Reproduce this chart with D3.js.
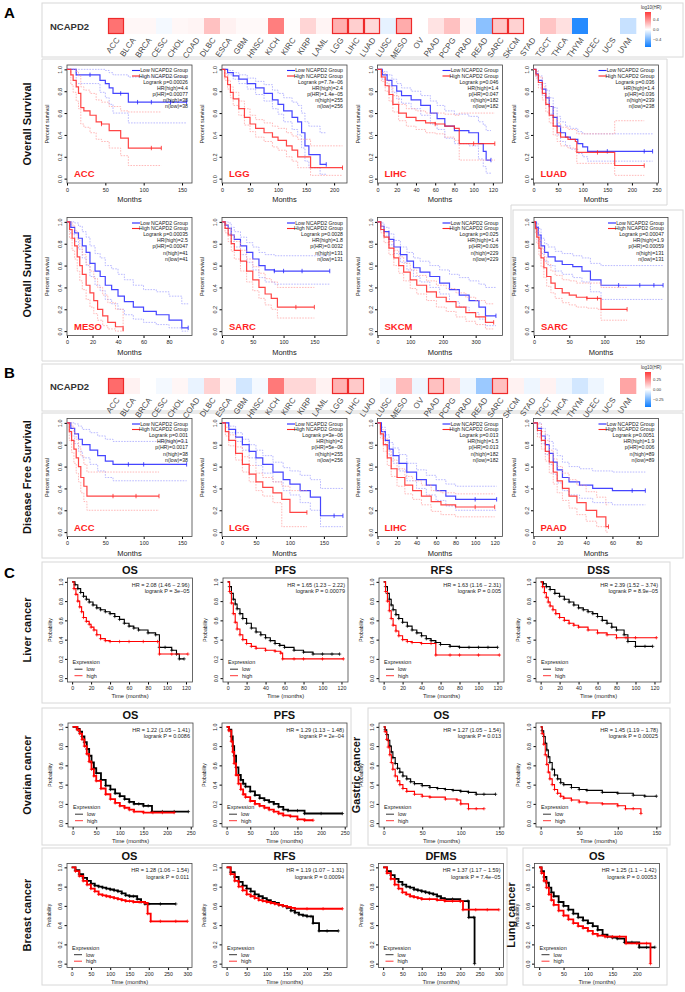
<!DOCTYPE html>
<html>
<head>
<meta charset="utf-8">
<script src="https://cdn.jsdelivr.net/npm/d3@7"></script>
<style>
  body { margin: 0; background: #fff; }
  svg { display: block; font-family: "Liberation Sans", Arial, sans-serif; }
</style>
</head>
<body>
<script>
// ---------- heatmap data ----------
const cancers = ['ACC','BLCA','BRCA','CESC','CHOL','COAD','DLBC','ESCA','GBM','HNSC','KICH','KIRC','KIRP','LAML',
  'LGG','LIHC','LUAD','LUSC','MESO','OV','PAAD','PCPG','PRAD','READ','SARC','SKCM','STAD','TGCT','THCA','THYM','UCEC','UCS','UVM']
const osHR = [0.5,0.03,0.03,-0.03,0.03,0.04,0.22,0.05,0.02,0.02,0.46,0.01,0.15,0.04,
  0.28,0.17,0.14,-0.07,0.3,0,0.1,0.22,0.04,-0.33,0.2,0.16,0,0.21,0.11,-0.62,0,0,-0.16]
const osSig = ['ACC','LGG','LIHC','LUAD','MESO','SARC','SKCM']
const dfsHR = [0.33,0.03,0,-0.02,0.02,-0.04,0.1,0.02,-0.08,-0.02,0.3,0.09,0.09,0.03,
  0.17,0.12,0,-0.02,0.15,-0.03,0.14,0.08,-0.03,-0.18,0.14,0.03,-0.03,0.03,-0.03,-0.08,-0.03,0,0.2]
const dfsSig = ['ACC','LGG','LIHC','PAAD','SARC']
const osLegendTicks = [0.4, 0, -0.4]
const dfsLegendTicks = [0.25, 0, -0.25]

// ---------- GEPIA curves: [months, survival, lower CI, upper CI, censored] ----------
const osACC_low = [[0,1,1,1],[12,0.95,0.87,1],[30,0.95,0.87,1,1],[43,0.9,0.79,1],[50,0.87,0.74,0.99],[55,0.83,0.68,0.97],
  [60,0.78,0.6,0.95],[70,0.78,0.6,0.95,1],[80,0.7,0.51,0.93],[92,0.7,0.51,0.93,1],[110,0.7,0.51,0.93,1],[135,0.7,0.51,0.93,1],[156,0.7,0.51,0.93,1]]
const osACC_high = [[0,1,1,1],[5,0.95,0.86,1],[8,0.9,0.79,1],[12,0.84,0.71,0.98],[15,0.78,0.64,0.94],[18,0.65,0.5,0.84],
  [22,0.62,0.47,0.81],[30,0.58,0.42,0.78],[38,0.52,0.36,0.72],[45,0.5,0.34,0.7,1],[55,0.44,0.28,0.66],[70,0.37,0.21,0.62],
  [80,0.28,0.12,0.61],[110,0.28,0.12,0.61,1],[123,0.28,0.12,0.61,1]]
const osLGG_low = [[0,1,1,1],[10,0.97,0.95,0.99],[20,0.94,0.91,0.97],[30,0.91,0.87,0.95],[45,0.87,0.82,0.92],[60,0.83,0.77,0.89],
  [75,0.78,0.71,0.86],[90,0.72,0.64,0.81],[100,0.68,0.59,0.78],[110,0.62,0.52,0.74],[125,0.56,0.45,0.7],[135,0.52,0.4,0.67],
  [142,0.42,0.28,0.6],[148,0.3,0.16,0.52],[155,0.22,0.1,0.48],[175,0.13,0.04,0.42],[186,0.13,0.04,0.42,1]]
const osLGG_high = [[0,1,1,1],[5,0.93,0.9,0.96],[10,0.86,0.82,0.9],[15,0.79,0.74,0.84],[20,0.73,0.67,0.79],[30,0.64,0.58,0.71],
  [40,0.56,0.49,0.64],[50,0.5,0.43,0.58],[60,0.46,0.38,0.54],[75,0.42,0.34,0.51],[90,0.38,0.29,0.48],[100,0.35,0.26,0.46],
  [115,0.3,0.2,0.42],[125,0.26,0.16,0.39],[135,0.2,0.1,0.36],[158,0.1,0.03,0.3],[215,0.1,0.03,0.3,1]]
const osLIHC_low = [[0,1,1,1],[5,0.95,0.91,0.98],[10,0.9,0.85,0.95],[15,0.85,0.79,0.91],[20,0.8,0.73,0.87],[25,0.76,0.69,0.83],
  [35,0.72,0.64,0.8],[45,0.67,0.58,0.76],[55,0.6,0.5,0.71],[62,0.55,0.45,0.67],[70,0.48,0.37,0.62],[80,0.44,0.32,0.59],
  [95,0.42,0.3,0.57],[105,0.32,0.18,0.52],[110,0.25,0.11,0.49],[113,0.17,0.05,0.44],[118,0.17,0.05,0.44,1]]
const osLIHC_high = [[0,1,1,1],[4,0.93,0.89,0.97],[8,0.85,0.8,0.9],[12,0.77,0.71,0.84],[16,0.68,0.61,0.76],[22,0.6,0.53,0.68],
  [30,0.56,0.48,0.64],[40,0.53,0.45,0.62],[50,0.51,0.42,0.6],[60,0.5,0.41,0.6,1],[70,0.48,0.38,0.59],[80,0.46,0.35,0.58],
  [85,0.32,0.17,0.6],[100,0.32,0.17,0.6,1],[122,0.32,0.17,0.6,1]]
const osLUAD_low = [[0,1,1,1],[5,0.96,0.93,0.99],[10,0.9,0.86,0.94],[18,0.82,0.76,0.87],[25,0.74,0.68,0.81],[32,0.66,0.59,0.74],
  [40,0.56,0.48,0.65],[48,0.48,0.4,0.57],[55,0.42,0.34,0.52],[65,0.38,0.3,0.48],[75,0.36,0.27,0.46],[90,0.32,0.23,0.43],
  [100,0.29,0.2,0.41],[110,0.25,0.16,0.41],[150,0.25,0.16,0.41,1],[225,0.25,0.16,0.41,1],[242,0.25,0.16,0.41,1]]
const osLUAD_high = [[0,1,1,1],[5,0.95,0.92,0.98],[10,0.88,0.83,0.93],[18,0.78,0.72,0.84],[25,0.68,0.61,0.75],[32,0.58,0.51,0.66],
  [40,0.48,0.4,0.57],[48,0.42,0.34,0.51],[55,0.38,0.3,0.47],[70,0.36,0.28,0.45],[85,0.34,0.25,0.44],[88,0.24,0.14,0.41],
  [130,0.24,0.14,0.41,1],[165,0.12,0.03,0.53],[225,0.12,0.03,0.53,1]]
const osMESO_low = [[0,1,1,1],[3,0.95,0.89,1],[6,0.9,0.82,0.99],[9,0.85,0.75,0.96],[12,0.78,0.67,0.91],[15,0.72,0.6,0.86],
  [18,0.62,0.5,0.78],[22,0.55,0.42,0.71],[26,0.5,0.37,0.67],[30,0.42,0.29,0.6],[35,0.38,0.25,0.57],[40,0.32,0.2,0.52],
  [45,0.27,0.15,0.47],[52,0.22,0.11,0.42],[60,0.18,0.08,0.38],[70,0.15,0.06,0.36],[80,0.1,0.03,0.32],[90,0.03,0,0.25],[95,0.03,0,0.25,1]]
const osMESO_high = [[0,1,1,1],[2,0.93,0.85,1],[4,0.85,0.74,0.97],[6,0.78,0.66,0.92],[8,0.68,0.55,0.84],[10,0.6,0.46,0.77],
  [12,0.52,0.38,0.7],[15,0.42,0.29,0.61],[18,0.35,0.22,0.55],[21,0.28,0.16,0.48],[24,0.2,0.1,0.4],[28,0.14,0.05,0.33],
  [32,0.08,0.02,0.26],[38,0.04,0,0.2],[44,0,0,0]]
const osSARC_low = [[0,1,1,1],[5,0.97,0.94,1],[10,0.94,0.89,0.99],[15,0.88,0.82,0.95],[20,0.84,0.77,0.91],[30,0.78,0.7,0.86],
  [40,0.72,0.63,0.81],[50,0.66,0.56,0.77],[60,0.6,0.49,0.72],[70,0.56,0.45,0.7],[85,0.55,0.43,0.69,1],[100,0.55,0.43,0.69,1],
  [130,0.55,0.43,0.69,1],[175,0.55,0.43,0.69,1]]
const osSARC_high = [[0,1,1,1],[5,0.94,0.9,0.98],[10,0.88,0.82,0.94],[15,0.8,0.73,0.88],[20,0.74,0.66,0.82],[30,0.64,0.55,0.74],
  [40,0.55,0.45,0.66],[50,0.47,0.37,0.59],[60,0.4,0.3,0.53],[70,0.34,0.24,0.48],[80,0.3,0.2,0.45],[90,0.22,0.12,0.4],
  [120,0.22,0.12,0.4,1],[150,0.22,0.12,0.4,1]]
const osSKCM_low = [[0,1,1,1],[10,0.96,0.93,0.99],[20,0.91,0.87,0.95],[35,0.84,0.79,0.89],[50,0.77,0.71,0.83],[70,0.7,0.63,0.77],
  [90,0.64,0.56,0.72],[110,0.58,0.5,0.67],[130,0.54,0.45,0.64],[160,0.5,0.4,0.6],[190,0.44,0.34,0.56],[220,0.38,0.27,0.52],
  [250,0.33,0.22,0.49],[280,0.28,0.17,0.46],[310,0.22,0.11,0.43],[330,0.14,0.05,0.4],[362,0.14,0.05,0.4,1]]
const osSKCM_high = [[0,1,1,1],[10,0.93,0.9,0.96],[20,0.86,0.81,0.9],[35,0.76,0.7,0.82],[50,0.67,0.6,0.74],[65,0.6,0.53,0.68],
  [80,0.54,0.46,0.62],[100,0.47,0.39,0.56],[120,0.42,0.34,0.51],[150,0.36,0.28,0.46],[180,0.31,0.22,0.42],[210,0.27,0.18,0.39],
  [240,0.22,0.13,0.35],[270,0.17,0.09,0.31],[300,0.13,0.06,0.28],[330,0.08,0.02,0.25],[355,0.08,0.02,0.25,1]]
const osSARC2_low = [[0,1,1,1],[3,0.95,0.91,0.99],[6,0.88,0.82,0.94],[10,0.78,0.71,0.85],[15,0.72,0.64,0.8],[20,0.68,0.6,0.77],
  [30,0.64,0.55,0.73],[40,0.61,0.52,0.71],[55,0.59,0.49,0.69],[68,0.55,0.45,0.67],[80,0.47,0.36,0.62],[95,0.42,0.29,0.6],
  [120,0.42,0.29,0.6,1],[150,0.42,0.29,0.6,1],[170,0.42,0.29,0.6,1],[183,0.42,0.29,0.6,1]]
const osSARC2_high = [[0,1,1,1],[2,0.94,0.9,0.98],[4,0.86,0.8,0.92],[7,0.76,0.69,0.84],[10,0.67,0.59,0.76],[14,0.58,0.49,0.68],
  [18,0.5,0.41,0.61],[24,0.44,0.35,0.55],[30,0.39,0.3,0.51],[40,0.35,0.26,0.47],[50,0.33,0.24,0.46],[60,0.31,0.22,0.44],
  [75,0.3,0.21,0.44,1],[90,0.3,0.2,0.44,1],[95,0.2,0.1,0.4],[132,0.2,0.1,0.4,1]]
const dfsACC_low = [[0,1,1,1],[5,0.95,0.88,1],[10,0.9,0.81,0.99],[15,0.85,0.74,0.97],[20,0.8,0.68,0.94],[30,0.75,0.62,0.91],
  [40,0.7,0.56,0.88],[50,0.65,0.5,0.85],[60,0.62,0.47,0.83],[80,0.62,0.47,0.83,1],[100,0.62,0.47,0.83,1],[156,0.62,0.47,0.83,1]]
const dfsACC_high = [[0,1,1,1],[3,0.92,0.84,1],[6,0.84,0.73,0.97],[9,0.76,0.63,0.91],[12,0.68,0.54,0.85],[15,0.6,0.46,0.78],
  [18,0.5,0.36,0.7],[22,0.42,0.28,0.62],[26,0.33,0.2,0.55],[60,0.33,0.2,0.55,1],[90,0.33,0.2,0.55,1],[120,0.33,0.2,0.55,1]]
const dfsLGG_low = [[0,1,1,1],[10,0.94,0.91,0.97],[20,0.87,0.83,0.91],[30,0.8,0.75,0.85],[40,0.74,0.68,0.8],[50,0.68,0.61,0.75],
  [60,0.62,0.54,0.7],[75,0.55,0.46,0.64],[90,0.48,0.38,0.59],[100,0.44,0.34,0.56],[115,0.38,0.27,0.52],[130,0.32,0.2,0.48],
  [145,0.15,0.05,0.4],[165,0.15,0.05,0.4,1],[178,0.15,0.05,0.4,1]]
const dfsLGG_high = [[0,1,1,1],[5,0.92,0.88,0.96],[10,0.84,0.79,0.89],[20,0.72,0.66,0.78],[30,0.62,0.55,0.69],[40,0.53,0.46,0.61],
  [50,0.46,0.38,0.54],[60,0.41,0.33,0.5],[75,0.36,0.27,0.46],[88,0.3,0.05,0.42],[100,0.18,0.05,0.38],[125,0.18,0.05,0.38,1]]
const dfsLIHC_low = [[0,1,1,1],[4,0.92,0.88,0.96],[8,0.84,0.79,0.89],[12,0.76,0.7,0.82],[16,0.7,0.63,0.77],[22,0.63,0.56,0.71],
  [30,0.55,0.47,0.63],[40,0.48,0.4,0.57],[50,0.43,0.34,0.52],[60,0.38,0.29,0.48],[70,0.33,0.24,0.44],[80,0.3,0.2,0.42],
  [100,0.3,0.2,0.42,1],[122,0.3,0.2,0.42,1]]
const dfsLIHC_high = [[0,1,1,1],[3,0.9,0.86,0.94],[6,0.8,0.74,0.86],[10,0.68,0.61,0.75],[14,0.58,0.51,0.66],[20,0.5,0.42,0.58],
  [28,0.43,0.35,0.51],[36,0.38,0.3,0.47],[45,0.33,0.25,0.43],[55,0.28,0.19,0.38],[65,0.25,0.16,0.36],[80,0.23,0.14,0.35],
  [100,0.23,0.14,0.35,1],[120,0.23,0.14,0.35,1]]
const dfsPAAD_low = [[0,1,1,1],[3,0.95,0.9,1],[6,0.88,0.81,0.95],[9,0.8,0.71,0.89],[12,0.72,0.62,0.83],[15,0.64,0.53,0.76],
  [18,0.57,0.45,0.7],[22,0.5,0.38,0.64],[27,0.46,0.34,0.6],[35,0.43,0.31,0.58],[45,0.4,0.27,0.56],[60,0.38,0.25,0.55],
  [75,0.38,0.25,0.55,1],[85,0.38,0.25,0.55,1]]
const dfsPAAD_high = [[0,1,1,1],[3,0.93,0.87,0.99],[6,0.84,0.76,0.92],[9,0.74,0.65,0.84],[12,0.64,0.54,0.75],[15,0.55,0.44,0.67],
  [18,0.47,0.36,0.6],[22,0.4,0.29,0.54],[27,0.33,0.22,0.48],[33,0.27,0.16,0.43],[40,0.2,0.1,0.37],[48,0.14,0.05,0.32],
  [55,0.05,0,0.25],[57,0.05,0,0.25,1]]

// ---------- KM plotter curves: [months, probability] ----------
const liverOS_low = [[0,1],[3,0.97],[6,0.93],[9,0.89],[12,0.85],[15,0.82],[18,0.79],[22,0.76],[26,0.73],[30,0.71],[35,0.69],[40,0.67],
  [45,0.64],[50,0.61],[55,0.57],[60,0.54],[65,0.52],[70,0.5],[80,0.47],[88,0.45],[92,0.32],[98,0.32],[105,0.29],[110,0.25],[113,0.2],[118,0.2]]
const liverOS_high = [[0,1],[2,0.93],[4,0.87],[6,0.8],[8,0.74],[10,0.69],[12,0.63],[15,0.59],[18,0.56],[20,0.53],[23,0.5],[26,0.45],
  [30,0.41],[35,0.39],[40,0.38],[50,0.38],[60,0.38],[75,0.38],[90,0.38],[92,0.25],[105,0.25],[122,0.25]]
const liverPFS_low = [[0,1],[2,0.95],[4,0.88],[6,0.82],[8,0.77],[10,0.72],[13,0.67],[16,0.62],[20,0.57],[25,0.52],[30,0.48],[35,0.45],
  [40,0.42],[45,0.39],[50,0.36],[55,0.34],[60,0.32],[70,0.29],[80,0.27],[90,0.25],[100,0.25],[110,0.25],[118,0.25]]
const liverPFS_high = [[0,1],[2,0.9],[4,0.78],[6,0.67],[8,0.58],[10,0.51],[13,0.45],[16,0.4],[20,0.36],[25,0.33],[30,0.31],[40,0.29],
  [50,0.28],[56,0.26],[58,0.2],[70,0.2],[80,0.2],[100,0.2],[122,0.2]]
const liverRFS_low = [[0,1],[2,0.95],[4,0.88],[6,0.82],[8,0.76],[10,0.71],[13,0.66],[16,0.62],[20,0.58],[25,0.54],[30,0.5],[35,0.47],
  [40,0.44],[45,0.41],[50,0.39],[55,0.37],[60,0.35],[70,0.33],[80,0.32],[90,0.32],[100,0.32],[110,0.32],[120,0.32]]
const liverRFS_high = [[0,1],[2,0.9],[4,0.8],[6,0.7],[8,0.62],[10,0.55],[13,0.49],[16,0.44],[20,0.4],[25,0.38],[30,0.37],[40,0.36],
  [50,0.36],[55,0.24],[70,0.24],[80,0.24],[100,0.24],[122,0.24]]
const liverDSS_low = [[0,1],[3,0.98],[6,0.95],[10,0.92],[15,0.88],[20,0.85],[25,0.82],[30,0.79],[35,0.76],[40,0.73],[45,0.71],[50,0.69],
  [55,0.67],[60,0.64],[65,0.6],[70,0.57],[75,0.53],[80,0.5],[88,0.45],[92,0.38],[100,0.33],[110,0.33],[118,0.33]]
const liverDSS_high = [[0,1],[2,0.95],[4,0.89],[6,0.84],[8,0.79],[10,0.75],[13,0.71],[16,0.67],[20,0.63],[25,0.6],[30,0.57],[35,0.55],
  [40,0.53],[50,0.5],[60,0.47],[70,0.45],[80,0.42],[90,0.42],[100,0.42],[122,0.42]]
const ovarianOS_low = [[0,1],[10,0.98],[15,0.95],[20,0.9],[25,0.84],[30,0.77],[35,0.7],[40,0.63],[45,0.57],[50,0.52],[60,0.45],[70,0.39],
  [80,0.35],[90,0.31],[100,0.28],[110,0.25],[120,0.22],[130,0.2],[140,0.2],[150,0.18],[160,0.18],[168,0.12],[190,0.12],[215,0.12],[245,0.12]]
const ovarianOS_high = [[0,1],[10,0.97],[15,0.93],[20,0.87],[25,0.8],[30,0.72],[35,0.64],[40,0.56],[45,0.49],[50,0.44],[60,0.36],[70,0.3],
  [80,0.25],[90,0.21],[100,0.18],[110,0.16],[120,0.14],[130,0.12],[150,0.11],[170,0.11],[190,0.11],[215,0.11]]
const ovarianPFS_low = [[0,1],[5,0.97],[10,0.9],[13,0.8],[16,0.7],[20,0.58],[25,0.5],[30,0.45],[35,0.41],[40,0.38],[50,0.33],[60,0.29],
  [70,0.26],[80,0.24],[90,0.22],[100,0.2],[110,0.17],[120,0.14],[130,0.13],[150,0.13],[165,0.1],[200,0.1],[245,0.1]]
const ovarianPFS_high = [[0,1],[5,0.96],[10,0.85],[13,0.74],[16,0.62],[20,0.5],[25,0.41],[30,0.35],[35,0.3],[40,0.27],[50,0.23],[60,0.2],
  [70,0.18],[80,0.16],[90,0.14],[100,0.12],[110,0.1],[120,0.08],[135,0.07],[150,0.04],[165,0.03],[183,0.03]]
const gastricOS_low = [[0,1],[2,0.97],[4,0.92],[6,0.86],[8,0.8],[10,0.74],[12,0.68],[15,0.62],[18,0.57],[21,0.53],[25,0.49],[30,0.46],
  [35,0.43],[40,0.41],[50,0.39],[60,0.37],[70,0.36],[80,0.35],[90,0.34],[100,0.33],[110,0.32],[120,0.3],[130,0.3],[145,0.3]]
const gastricOS_high = [[0,1],[2,0.95],[4,0.87],[6,0.79],[8,0.71],[10,0.63],[12,0.56],[15,0.49],[18,0.44],[21,0.4],[25,0.36],[30,0.33],
  [40,0.3],[50,0.28],[60,0.27],[80,0.25],[95,0.24],[100,0.2],[110,0.15],[120,0.15],[130,0.15]]
const gastricFP_low = [[0,1],[2,0.96],[4,0.9],[6,0.83],[8,0.76],[10,0.69],[12,0.63],[15,0.56],[18,0.5],[22,0.46],[26,0.42],[30,0.4],
  [40,0.37],[50,0.35],[60,0.34],[80,0.32],[100,0.31],[120,0.29],[135,0.28],[150,0.28]]
const gastricFP_high = [[0,1],[2,0.93],[4,0.82],[6,0.71],[8,0.61],[10,0.53],[12,0.46],[15,0.4],[18,0.35],[22,0.31],[26,0.28],[30,0.26],
  [40,0.24],[50,0.22],[60,0.21],[80,0.2],[100,0.18],[110,0.15],[120,0.15],[130,0.1]]
const breastOS_low = [[0,1],[10,0.97],[20,0.93],[30,0.89],[40,0.86],[50,0.83],[60,0.81],[70,0.8],[80,0.79],[90,0.78],[100,0.77],[110,0.76],
  [120,0.75],[130,0.73],[140,0.71],[150,0.7],[160,0.7],[170,0.67],[180,0.64],[190,0.62],[200,0.62],[230,0.62],[270,0.62]]
const breastOS_high = [[0,1],[10,0.96],[20,0.91],[30,0.86],[40,0.82],[50,0.78],[60,0.75],[70,0.72],[80,0.71],[90,0.7],[100,0.69],[110,0.68],
  [120,0.67],[130,0.66],[140,0.65],[150,0.65],[160,0.64],[175,0.64],[190,0.63],[197,0.52],[205,0.44],[230,0.44],[270,0.44],[300,0.44]]
const breastRFS_low = [[0,1],[10,0.95],[20,0.9],[30,0.85],[40,0.81],[50,0.78],[60,0.75],[70,0.72],[80,0.7],[90,0.68],[100,0.66],[110,0.64],
  [120,0.63],[130,0.61],[140,0.6],[150,0.58],[160,0.55],[170,0.53],[180,0.51],[190,0.5],[200,0.49],[210,0.49],[215,0.42],[230,0.34],[250,0.34],[278,0.34]]
const breastRFS_high = [[0,1],[10,0.93],[20,0.86],[30,0.8],[40,0.76],[50,0.72],[60,0.7],[70,0.68],[80,0.66],[90,0.65],[100,0.64],[110,0.63],
  [120,0.62],[130,0.61],[140,0.6],[150,0.59],[160,0.58],[170,0.57],[200,0.57],[240,0.57],[288,0.57]]
const breastDFMS_low = [[0,1],[10,0.96],[20,0.92],[30,0.88],[40,0.85],[50,0.82],[60,0.8],[70,0.79],[80,0.77],[90,0.76],[100,0.75],[110,0.74],
  [120,0.73],[130,0.72],[140,0.7],[150,0.68],[160,0.67],[180,0.67],[200,0.65],[220,0.65],[222,0.48],[235,0.48],[237,0]]
const breastDFMS_high = [[0,1],[10,0.94],[20,0.88],[30,0.82],[40,0.78],[50,0.74],[60,0.72],[70,0.7],[80,0.69],[90,0.68],[100,0.67],[120,0.67],
  [140,0.66],[160,0.65],[180,0.65],[200,0.65],[207,0.56],[240,0.56],[270,0.56],[300,0.56]]
const lungOS_low = [[0,1],[5,0.96],[10,0.9],[15,0.84],[20,0.79],[25,0.74],[30,0.7],[40,0.64],[50,0.6],[60,0.56],[70,0.52],[80,0.48],
  [90,0.45],[100,0.42],[110,0.39],[120,0.35],[130,0.3],[140,0.28],[150,0.27],[160,0.26],[175,0.22],[190,0.22],[205,0.17],[220,0.17],[237,0.17]]
const lungOS_high = [[0,1],[5,0.94],[10,0.86],[15,0.79],[20,0.72],[25,0.66],[30,0.61],[40,0.55],[50,0.5],[60,0.46],[70,0.42],[80,0.39],
  [90,0.37],[100,0.34],[110,0.31],[120,0.29],[135,0.28],[150,0.28],[165,0.28],[178,0.21],[200,0.21],[220,0.21],[228,0]]

// ---------- drawing ----------
const svg = d3.select('body').append('svg').attr('width', 685).attr('height', 992)
const boxColor = '#d8d8d8'

function box(x, y, w, h) {
  svg.append('rect').attr('x', x).attr('y', y).attr('width', w).attr('height', h)
    .attr('fill', 'none').attr('stroke', boxColor).attr('stroke-width', 1)
}
function letter(t, x, y) {
  svg.append('text').attr('x', x).attr('y', y).attr('font-size', 15).attr('font-weight', 'bold').text(t)
}
function rowLabel(t, x, y) {
  svg.append('text').attr('transform', `translate(${x},${y}) rotate(-90)`).attr('text-anchor', 'middle')
    .attr('font-size', 11).attr('font-weight', 'bold').attr('fill', '#111').text(t)
}

function heatmap(top, values, sig, legendTicks, lim, gid) {
  const g = svg.append('g')
  const xb = d3.scaleBand().domain(cancers).range([108, 636])
  const color = d3.scaleLinear().domain([-lim, 0, lim]).range(['#0a7cff', '#ffffff', '#ff3a3a'])
  g.append('text').attr('x', 50).attr('y', top + 27).attr('font-size', 9.5).attr('font-weight', 'bold')
    .attr('fill', '#333').text('NCAPD2')
  g.selectAll('rect.cell').data(cancers).join('rect').attr('class', 'cell')
    .attr('x', d => xb(d)).attr('y', top + 15).attr('width', xb.bandwidth() + 0.3).attr('height', 16)
    .attr('fill', (d, i) => color(values[i]))
  g.selectAll('rect.sig').data(sig).join('rect').attr('class', 'sig')
    .attr('x', d => xb(d) + 0.5).attr('y', top + 15.5).attr('width', xb.bandwidth() - 1).attr('height', 15)
    .attr('fill', 'none').attr('stroke', '#ee2a2a').attr('stroke-width', 1.2)
  g.selectAll('text.lab').data(cancers).join('text').attr('class', 'lab')
    .attr('transform', d => `translate(${xb(d) + xb.bandwidth() / 2 + 4},${top + 37}) rotate(-55)`)
    .attr('text-anchor', 'end').attr('font-size', 8).attr('fill', '#4a4a4a').text(d => d)
  // colour key
  const grad = svg.append('defs').append('linearGradient').attr('id', gid)
    .attr('x1', 0).attr('y1', 0).attr('x2', 0).attr('y2', 1)
  grad.append('stop').attr('offset', '0%').attr('stop-color', color(lim))
  grad.append('stop').attr('offset', '50%').attr('stop-color', '#ffffff')
  grad.append('stop').attr('offset', '100%').attr('stop-color', color(-lim))
  const ky = d3.scaleLinear().domain([lim, -lim]).range([top + 9, top + 44])
  g.append('rect').attr('x', 645).attr('y', top + 9).attr('width', 6).attr('height', 35).attr('fill', `url(#${gid})`)
  g.append('text').attr('x', 641).attr('y', top + 6).attr('font-size', 4.5).attr('fill', '#333').text('log10(HR)')
  g.selectAll('text.kt').data(legendTicks).join('text').attr('class', 'kt')
    .attr('x', 653).attr('y', d => ky(d) + 1.5).attr('font-size', 4.2).attr('fill', '#333')
    .text(d => d3.format('.' + (lim < 0.5 ? 2 : 1) + 'f')(d).replace('-', '\u2212'))
}

function gepia(p) {
  const w = p.w || 125, h = 118
  const g = svg.append('g')
  const x = d3.scaleLinear().domain([0, p.xmax]).range([p.x0, p.x0 + w])
  const y = d3.scaleLinear().domain([-0.04, 1.04]).range([p.y0 + h, p.y0])
  g.append('g').attr('transform', `translate(0,${p.y0 + h})`)
    .call(d3.axisBottom(x).tickValues(p.ticks).tickSize(2.5).tickPadding(2.5))
    .call(a => a.select('.domain').remove())
    .call(a => a.selectAll('text').attr('font-size', 5.5).attr('fill', '#222'))
  g.append('g').attr('transform', `translate(${p.x0},0)`)
    .call(d3.axisLeft(y).tickValues([0, 0.2, 0.4, 0.6, 0.8, 1]).tickFormat(d3.format('.1f')).tickSize(2.5).tickPadding(2))
    .call(a => a.select('.domain').remove())
    .call(a => a.selectAll('text').attr('font-size', 5.5).attr('fill', '#222')
      .attr('transform', 'rotate(-90)').attr('text-anchor', 'middle').attr('x', 0).attr('dy', 0).attr('y', -5))
  g.append('rect').attr('x', p.x0).attr('y', p.y0).attr('width', w).attr('height', h)
    .attr('fill', 'none').attr('stroke', '#444').attr('stroke-width', 0.8)
  g.append('text').attr('x', p.x0 + w / 2).attr('y', p.y0 + h + 19).attr('text-anchor', 'middle')
    .attr('font-size', 7.5).attr('fill', '#222').text('Months')
  g.append('text').attr('transform', `translate(${p.x0 - 18},${p.y0 + h / 2}) rotate(-90)`).attr('text-anchor', 'middle')
    .attr('font-size', 5.5).attr('fill', '#222').text('Percent survival')
  const series = [[p.low, '#2424ff', '#9c9cff'], [p.high, '#ff2424', '#ff9c9c']]
  series.forEach(([data, main, light]) => {
    [2, 3].forEach(k => {
      g.append('path').datum(data).attr('fill', 'none').attr('stroke', light).attr('stroke-width', 0.7)
        .attr('stroke-dasharray', '1.6,1.2')
        .attr('d', d3.line().x(d => x(d[0])).y(d => y(d[k])).curve(d3.curveStepAfter))
    })
    g.append('path').datum(data).attr('fill', 'none').attr('stroke', main).attr('stroke-width', 1.2).attr('opacity', 0.85)
      .attr('d', d3.line().x(d => x(d[0])).y(d => y(d[1])).curve(d3.curveStepAfter))
    g.selectAll(null).data(data.filter(d => d[4])).join('line')
      .attr('x1', d => x(d[0])).attr('x2', d => x(d[0])).attr('y1', d => y(d[1]) - 2.2).attr('y2', d => y(d[1]) + 2.2)
      .attr('stroke', main).attr('stroke-width', 0.8)
  })
  const right = p.x0 + w - 4
  const lg = [['Low NCAPD2 Group', '#2424ff'], ['High NCAPD2 Group', '#ff2424']]
  lg.forEach(([t, c], i) => {
    const yy = p.y0 + 5.5 + i * 5.5
    g.append('line').attr('x1', right - 56).attr('x2', right - 48).attr('y1', yy).attr('y2', yy)
      .attr('stroke', c).attr('stroke-width', 1.1)
    g.append('text').attr('x', right).attr('y', yy + 1.8).attr('text-anchor', 'end').attr('font-size', 5.2)
      .attr('fill', '#222').text(t)
  })
  p.stats.forEach((t, i) => {
    g.append('text').attr('x', right).attr('y', p.y0 + 18.5 + i * 6.2).attr('text-anchor', 'end')
      .attr('font-size', 5.2).attr('fill', '#222').text(t)
  })
  g.append('text').attr('x', p.x0 + 7).attr('y', p.y0 + h - 6).attr('font-size', 9.5).attr('font-weight', 'bold')
    .attr('fill', '#ff1f1f').text(p.name)
}

function kmp(p) {
  const w = p.w || 125, h = 104
  const lw = p.thick ? 1.8 : 1.1
  const g = svg.append('g')
  const x = d3.scaleLinear().domain([-0.04 * p.xm, 1.04 * p.xm]).range([p.x0, p.x0 + w])
  const y = d3.scaleLinear().domain([-0.04, 1.04]).range([p.y0 + h, p.y0])
  g.append('text').attr('x', p.x0 + w / 2).attr('y', p.y0 - 4).attr('text-anchor', 'middle')
    .attr('font-size', 11).attr('font-weight', 'bold').attr('fill', '#111').text(p.title)
  g.append('g').attr('transform', `translate(0,${p.y0 + h})`)
    .call(d3.axisBottom(x).tickValues(p.ticks).tickSize(2.5).tickPadding(2))
    .call(a => a.select('.domain').remove())
    .call(a => a.selectAll('text').attr('font-size', 5.3).attr('fill', '#222'))
  g.append('g').attr('transform', `translate(${p.x0},0)`)
    .call(d3.axisLeft(y).tickValues([0, 0.2, 0.4, 0.6, 0.8, 1]).tickFormat(d3.format('.1f')).tickSize(2.5).tickPadding(2))
    .call(a => a.select('.domain').remove())
    .call(a => a.selectAll('text').attr('font-size', 5.3).attr('fill', '#222')
      .attr('transform', 'rotate(-90)').attr('text-anchor', 'middle').attr('x', 0).attr('dy', 0).attr('y', -5))
  g.append('rect').attr('x', p.x0).attr('y', p.y0).attr('width', w).attr('height', h)
    .attr('fill', 'none').attr('stroke', '#444').attr('stroke-width', 0.8)
  g.append('text').attr('x', p.x0 + w / 2).attr('y', p.y0 + h + 16).attr('text-anchor', 'middle')
    .attr('font-size', 5.8).attr('fill', '#222').text('Time (months)')
  g.append('text').attr('transform', `translate(${p.x0 - 16},${p.y0 + h / 2}) rotate(-90)`).attr('text-anchor', 'middle')
    .attr('font-size', 5).attr('fill', '#222').text('Probability')
  ;[[p.low, '#000000'], [p.high, '#ff0000']].forEach(([data, c]) => {
    g.append('path').datum(data).attr('fill', 'none').attr('stroke', c).attr('stroke-width', lw)
      .attr('d', d3.line().x(d => x(d[0])).y(d => y(d[1])).curve(d3.curveStepAfter))
    g.selectAll(null).data(data.slice(1)).join('path')
      .attr('transform', d => `translate(${x(d[0])},${y(d[1])})`)
      .attr('d', 'M-1.7,0H1.7M0,-1.7V1.7').attr('stroke', c).attr('stroke-width', 0.7)
  })
  const right = p.x0 + w - 3
  g.append('text').attr('x', right).attr('y', p.y0 + 8.5).attr('text-anchor', 'end').attr('font-size', 5.5)
    .attr('fill', '#222').text(p.hr)
  g.append('text').attr('x', right).attr('y', p.y0 + 15).attr('text-anchor', 'end').attr('font-size', 5.5)
    .attr('fill', '#222').text(p.p)
  const lx = p.x0 + 5, by = p.y0 + h
  g.append('text').attr('x', lx).attr('y', by - 18).attr('font-size', 5.5).attr('fill', '#222').text('Expression')
  ;[['low', '#000000', 11], ['high', '#ff0000', 4.5]].forEach(([t, c, off]) => {
    g.append('line').attr('x1', lx + 2).attr('x2', lx + 10).attr('y1', by - off - 1.8).attr('y2', by - off - 1.8)
      .attr('stroke', c).attr('stroke-width', 0.8)
    g.append('text').attr('x', lx + 14).attr('y', by - off).attr('font-size', 5.5).attr('fill', '#222').text(t)
  })
}

// ---------- layout ----------
box(42, 3, 641, 54)
svg.append('path').attr('d', 'M42,59H667V205H511V361H42Z').attr('fill', 'none').attr('stroke', boxColor)
box(513, 210, 170, 150)
box(42, 364, 641, 47)
box(42, 413, 641, 145)
box(42, 562, 628, 141)
box(42, 708, 309, 137)
box(368, 708, 302, 137)
box(42, 848, 465, 137)
box(523, 848, 144, 137)

letter('A', 4, 18)
letter('B', 4, 378)
letter('C', 4, 578)

heatmap(3, osHR, osSig, osLegendTicks, 0.7, 'gradA')
heatmap(363, dfsHR, dfsSig, dfsLegendTicks, 0.44, 'gradB')

rowLabel('Overall Survival', 31, 124)
rowLabel('Overall Survival', 31, 276)
rowLabel('Disease Free Survival', 31, 477)
rowLabel('Liver cancer', 31, 630)
rowLabel('Ovarian cancer', 31, 775)
rowLabel('Gastric cancer', 359.5, 775)
rowLabel('Breast cancer', 31, 915)
rowLabel('Lung cancer', 515, 915)

const cols = [67, 222, 377.5, 533.5]
const stat = (lp, hr, php, nh, nl) => ['Logrank p=' + lp, 'HR(high)=' + hr, 'p(HR)=' + php, 'n(high)=' + nh, 'n(low)=' + nl]

gepia({x0: cols[0], y0: 65, xmax: 163, ticks: [0, 50, 100, 150], low: osACC_low, high: osACC_high, name: 'ACC',
  stats: stat('0.00026', '4.4', '0.00077', 38, 38)})
gepia({x0: cols[1], y0: 65, xmax: 223, ticks: [0, 50, 100, 150, 200], low: osLGG_low, high: osLGG_high, name: 'LGG',
  stats: stat('7.7e\u221206', '2.4', '1.4e\u221205', 255, 256)})
gepia({x0: cols[2], y0: 65, xmax: 130, ticks: [0, 20, 40, 60, 80, 100, 120], low: osLIHC_low, high: osLIHC_high, name: 'LIHC',
  stats: stat('0.046', '1.4', '0.047', 182, 182)})
gepia({x0: cols[3], y0: 65, xmax: 254, ticks: [0, 50, 100, 150, 200, 250], low: osLUAD_low, high: osLUAD_high, name: 'LUAD',
  stats: stat('0.036', '1.4', '0.036', 239, 238)})
gepia({x0: cols[0], y0: 217.5, xmax: 98, ticks: [0, 20, 40, 60, 80], low: osMESO_low, high: osMESO_high, name: 'MESO',
  stats: stat('0.00035', '2.5', '0.00047', 41, 41)})
gepia({x0: cols[1], y0: 217.5, xmax: 203, ticks: [0, 50, 100, 150], low: osSARC_low, high: osSARC_high, name: 'SARC',
  stats: stat('0.0028', '1.8', '0.0032', 131, 131)})
gepia({x0: cols[2], y0: 217.5, xmax: 382, ticks: [0, 100, 200, 300], low: osSKCM_low, high: osSKCM_high, name: 'SKCM',
  stats: stat('0.025', '1.4', '0.026', 229, 229)})
gepia({x0: 534, y0: 217.5, w: 134, xmax: 190, ticks: [0, 50, 100, 150], low: osSARC2_low, high: osSARC2_high, name: 'SARC',
  stats: stat('0.00047', '1.9', '0.00059', 131, 131)})

gepia({x0: cols[0], y0: 418.5, xmax: 163, ticks: [0, 50, 100, 150], low: dfsACC_low, high: dfsACC_high, name: 'ACC',
  stats: stat('0.001', '3.1', '0.0017', 38, 38)})
gepia({x0: cols[1], y0: 418.5, xmax: 184, ticks: [0, 50, 100, 150], low: dfsLGG_low, high: dfsLGG_high, name: 'LGG',
  stats: stat('3e\u221206', '2', '5e\u221206', 255, 256)})
gepia({x0: cols[2], y0: 418.5, xmax: 128, ticks: [0, 20, 40, 60, 80, 100, 120], low: dfsLIHC_low, high: dfsLIHC_high, name: 'LIHC',
  stats: stat('0.013', '1.5', '0.013', 182, 182)})
gepia({x0: cols[3], y0: 418.5, xmax: 95, ticks: [0, 20, 40, 60, 80], low: dfsPAAD_low, high: dfsPAAD_high, name: 'PAAD',
  stats: stat('0.0051', '1.9', '0.006', 89, 89)})

const liverTicks = [0, 20, 40, 60, 80, 100, 120]
kmp({x0: 67.5, y0: 578, xm: 122, ticks: liverTicks, low: liverOS_low, high: liverOS_high, title: 'OS',
  hr: 'HR = 2.08 (1.46 \u2212 2.96)', p: 'logrank P = 3e\u221205'})
kmp({x0: 223, y0: 578, xm: 122, ticks: liverTicks, low: liverPFS_low, high: liverPFS_high, title: 'PFS',
  hr: 'HR = 1.65 (1.23 \u2212 2.22)', p: 'logrank P = 0.00079'})
kmp({x0: 379, y0: 578, xm: 122, ticks: liverTicks, low: liverRFS_low, high: liverRFS_high, title: 'RFS',
  hr: 'HR = 1.63 (1.16 \u2212 2.31)', p: 'logrank P = 0.005'})
kmp({x0: 536, y0: 578, xm: 122, ticks: liverTicks, low: liverDSS_low, high: liverDSS_high, title: 'DSS',
  hr: 'HR = 2.39 (1.52 \u2212 3.74)', p: 'logrank P = 8.9e\u221205'})

kmp({x0: 68, y0: 723, xm: 245, ticks: [0, 50, 100, 150, 200, 250], low: ovarianOS_low, high: ovarianOS_high, title: 'OS', thick: true,
  hr: 'HR = 1.22 (1.05 \u2212 1.41)', p: 'logrank P = 0.0086'})
kmp({x0: 222, y0: 723, xm: 245, ticks: [0, 50, 100, 150, 200, 250], low: ovarianPFS_low, high: ovarianPFS_high, title: 'PFS', thick: true,
  hr: 'HR = 1.29 (1.13 \u2212 1.48)', p: 'logrank P = 2e\u221204'})
kmp({x0: 379, y0: 723, xm: 150, ticks: [0, 50, 100, 150], low: gastricOS_low, high: gastricOS_high, title: 'OS',
  hr: 'HR = 1.27 (1.05 \u2212 1.54)', p: 'logrank P = 0.013'})
kmp({x0: 536, y0: 723, xm: 150, ticks: [0, 50, 100, 150], low: gastricFP_low, high: gastricFP_high, title: 'FP',
  hr: 'HR = 1.45 (1.19 \u2212 1.78)', p: 'logrank P = 0.00025'})

kmp({x0: 67, y0: 863.5, xm: 300, ticks: [0, 50, 100, 150, 200, 250, 300], low: breastOS_low, high: breastOS_high, title: 'OS', thick: true,
  hr: 'HR = 1.28 (1.06 \u2212 1.54)', p: 'logrank P = 0.011'})
kmp({x0: 222, y0: 863.5, xm: 288, ticks: [0, 50, 100, 150, 200, 250], low: breastRFS_low, high: breastRFS_high, title: 'RFS', thick: true,
  hr: 'HR = 1.19 (1.07 \u2212 1.31)', p: 'logrank P = 0.00094'})
kmp({x0: 378.5, y0: 863.5, xm: 300, ticks: [0, 50, 100, 150, 200, 250, 300], low: breastDFMS_low, high: breastDFMS_high, title: 'DFMS', thick: true,
  hr: 'HR = 1.37 (1.17 \u2212 1.59)', p: 'logrank P = 7.4e\u221205'})
kmp({x0: 534.5, y0: 863.5, xm: 237, ticks: [0, 50, 100, 150, 200], low: lungOS_low, high: lungOS_high, title: 'OS', thick: true,
  hr: 'HR = 1.25 (1.1 \u2212 1.42)', p: 'logrank P = 0.00053'})
</script>
</body>
</html>
